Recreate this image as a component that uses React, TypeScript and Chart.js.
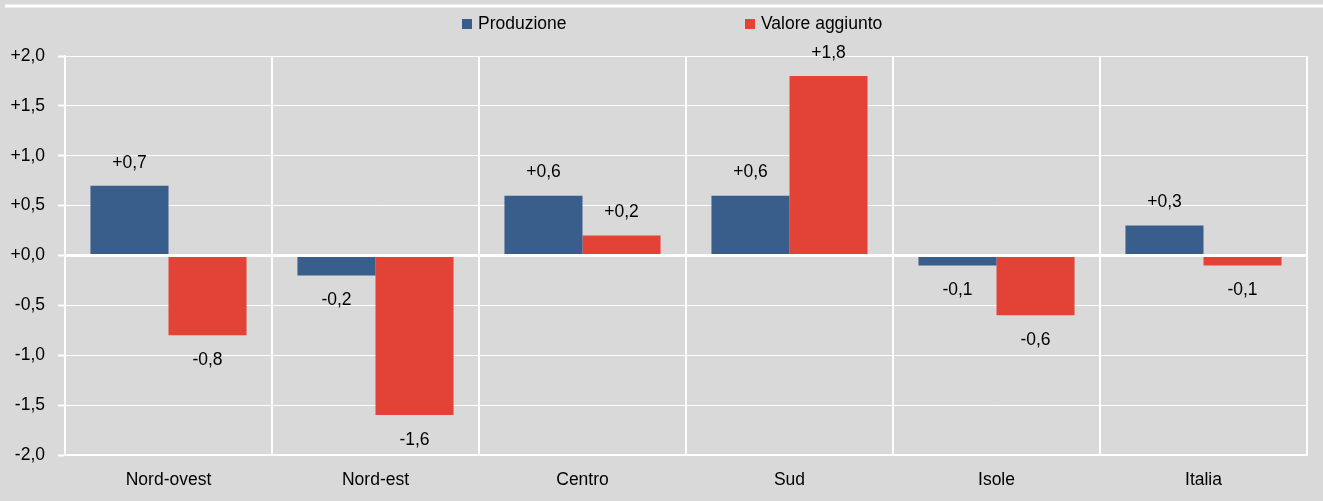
import React, { useEffect, useRef } from 'react';
import { Chart, registerables } from 'chart.js';

Chart.register(...registerables);

const categories = ['Nord-ovest', 'Nord-est', 'Centro', 'Sud', 'Isole', 'Italia'];
const produzione = [0.7, -0.2, 0.6, 0.6, -0.1, 0.3];
const valoreAggiunto = [-0.8, -1.6, 0.2, 1.8, -0.6, -0.1];
const seriesNames = ['Produzione', 'Valore aggiunto'];
const seriesColors = ['#3a5e8b', '#e34236'];
const yMin = -2;
const yMax = 2;
const yStep = 0.5;

const FONT_FAMILY = "'Liberation Sans', Arial, sans-serif";
const FONT_SIZE = 17.5;

const fmt = (v: number) => {
  const r = Math.round(v * 10) / 10;
  return (r >= 0 ? '+' : '-') + Math.abs(r).toFixed(1).replace('.', ',');
};

const bgPlugin = {
  id: 'bgPlugin',
  beforeDraw(chart: any) {
    const ctx = chart.ctx;
    ctx.save();
    ctx.fillStyle = '#d9d9d9';
    ctx.fillRect(0, 0, chart.width, chart.height);
    ctx.strokeStyle = '#ffffff';
    ctx.lineWidth = 3;
    ctx.beginPath();
    ctx.moveTo(5, 6);
    ctx.lineTo(chart.width, 6);
    ctx.stroke();
    ctx.restore();
  },
};

const labelPlugin = {
  id: 'labelPlugin',
  afterDatasetsDraw(chart: any) {
    const ctx = chart.ctx;
    ctx.save();
    ctx.font = `${FONT_SIZE}px ${FONT_FAMILY}`;
    ctx.fillStyle = '#000';
    ctx.textAlign = 'center';
    ctx.textBaseline = 'middle';
    chart.data.datasets.forEach((ds: any, i: number) => {
      const meta = chart.getDatasetMeta(i);
      meta.data.forEach((el: any, j: number) => {
        const v = ds.data[j];
        const { x, y } = el.getProps(['x', 'y'], true);
        ctx.fillText(fmt(v), x, v >= 0 ? y - 23 : y + 25);
      });
    });
    ctx.restore();
  },
};

const legendPlugin = {
  id: 'customLegend',
  afterDraw(chart: any) {
    const ctx = chart.ctx;
    const positions = [462, 745];
    ctx.save();
    ctx.font = `${FONT_SIZE}px ${FONT_FAMILY}`;
    ctx.textBaseline = 'middle';
    ctx.textAlign = 'left';
    chart.data.datasets.forEach((ds: any, i: number) => {
      const x = positions[i];
      ctx.fillStyle = ds.backgroundColor;
      ctx.fillRect(x, 19, 10, 10);
      ctx.fillStyle = '#000';
      ctx.fillText(ds.label, x + 16, 24);
    });
    ctx.restore();
  },
};

export default function App() {
  const canvasRef = useRef<HTMLCanvasElement | null>(null);

  useEffect(() => {
    document.body.style.margin = '0';
    const canvas = canvasRef.current;
    if (!canvas) return;
    const font = { family: FONT_FAMILY, size: FONT_SIZE };
    const chart = new Chart(canvas, {
      type: 'bar',
      data: {
        labels: categories,
        datasets: [
          {
            label: seriesNames[0],
            data: produzione,
            backgroundColor: seriesColors[0],
            borderWidth: 0,
            categoryPercentage: 0.754,
            barPercentage: 1,
          },
          {
            label: seriesNames[1],
            data: valoreAggiunto,
            backgroundColor: seriesColors[1],
            borderWidth: 0,
            categoryPercentage: 0.754,
            barPercentage: 1,
          },
        ],
      },
      options: {
        responsive: false,
        animation: false,
        devicePixelRatio: 1,
        layout: { padding: { top: 56, right: 16, left: 0, bottom: 0 } },
        plugins: {
          legend: { display: false },
          tooltip: { enabled: false },
          title: { display: false },
        },
        scales: {
          x: {
            offset: true,
            grid: {
              offset: true,
              color: '#ffffff',
              lineWidth: 2,
              drawTicks: false,
            },
            border: { display: true, color: '#ffffff', width: 2 },
            ticks: { font, color: '#000', padding: 15 },
            afterFit: (s: any) => {
              s.height = 46;
            },
          },
          y: {
            min: yMin,
            max: yMax,
            ticks: {
              stepSize: yStep,
              font,
              color: '#000',
              padding: 13,
              callback: (v: any) => fmt(Number(v)),
            },
            grid: {
              color: '#ffffff',
              lineWidth: (ctx: any) => (ctx.tick && ctx.tick.value === 0 ? 3 : 1),
              drawTicks: true,
              tickLength: 7,
              tickColor: '#ffffff',
              tickWidth: 2,
            },
            border: { display: true, color: '#ffffff', width: 2 },
            afterFit: (s: any) => {
              s.width = 65;
            },
          },
        },
      },
      plugins: [bgPlugin, labelPlugin, legendPlugin],
    });
    return () => chart.destroy();
  }, []);

  return (
    <div style={{ width: 1323, height: 501 }}>
      <canvas ref={canvasRef} width={1323} height={501} />
    </div>
  );
}
